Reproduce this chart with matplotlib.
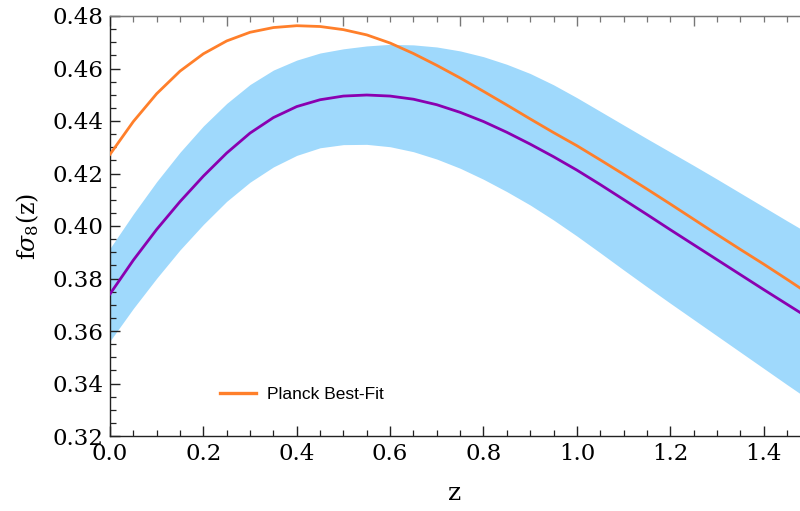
import numpy as np
import matplotlib
matplotlib.use("Agg")
import matplotlib.pyplot as plt
from matplotlib.ticker import MultipleLocator

# redshift grid
z = [0.00, 0.05, 0.10, 0.15, 0.20, 0.25, 0.30, 0.35, 0.40, 0.45,
     0.50, 0.55, 0.60, 0.65, 0.70, 0.75, 0.80, 0.85, 0.90, 0.95,
     1.00, 1.05, 1.10, 1.15, 1.20, 1.25, 1.30, 1.35, 1.40, 1.45, 1.50]

# Planck best-fit f sigma8(z)
planck = [0.4273, 0.4398, 0.4504, 0.4590, 0.4656, 0.4705, 0.4738, 0.4756, 0.4763, 0.4760,
          0.4748, 0.4728, 0.4697, 0.4657, 0.4612, 0.4564, 0.4513, 0.4461, 0.4408, 0.4356,
          0.4306, 0.4252, 0.4197, 0.4141, 0.4084, 0.4026, 0.3968, 0.3911, 0.3855, 0.3797, 0.3738]

# model best fit
model = [0.3741, 0.3870, 0.3987, 0.4093, 0.4190, 0.4278, 0.4354, 0.4413, 0.4455, 0.4481,
         0.4495, 0.4499, 0.4495, 0.4483, 0.4462, 0.4433, 0.4398, 0.4357, 0.4312, 0.4264,
         0.4213, 0.4158, 0.4101, 0.4044, 0.3986, 0.3929, 0.3872, 0.3815, 0.3758, 0.3702, 0.3646]

# 1-sigma band
upper = [0.3915, 0.4046, 0.4169, 0.4281, 0.4381, 0.4467, 0.4539, 0.4594, 0.4632, 0.4659,
         0.4675, 0.4686, 0.4692, 0.4690, 0.4682, 0.4667, 0.4645, 0.4616, 0.4581, 0.4538,
         0.4489, 0.4437, 0.4385, 0.4333, 0.4282, 0.4231, 0.4179, 0.4126, 0.4073, 0.4020, 0.3968]
lower = [0.3562, 0.3686, 0.3801, 0.3909, 0.4006, 0.4094, 0.4167, 0.4225, 0.4269, 0.4298,
         0.4310, 0.4311, 0.4302, 0.4283, 0.4255, 0.4220, 0.4178, 0.4131, 0.4080, 0.4023,
         0.3962, 0.3898, 0.3833, 0.3769, 0.3706, 0.3644, 0.3582, 0.3520, 0.3458, 0.3396, 0.3335]

xticks = [0.0, 0.2, 0.4, 0.6, 0.8, 1.0, 1.2, 1.4]
xticklabels = ["0.0", "0.2", "0.4", "0.6", "0.8", "1.0", "1.2", "1.4"]
yticks = [0.32, 0.34, 0.36, 0.38, 0.40, 0.42, 0.44, 0.46, 0.48]
yticklabels = ["0.32", "0.34", "0.36", "0.38", "0.40", "0.42", "0.44", "0.46", "0.48"]

plt.rcParams['mathtext.fontset'] = 'dejavuserif'

fig = plt.figure(figsize=(8.0, 5.11), dpi=100)
ax = fig.add_axes([110/800, 75/511, 690/800, 420/511])

ax.fill_between(z, lower, upper, color='#9fd9fc', linewidth=0, zorder=1)
ax.plot(z, model, color='#8a00b0', lw=2.0, zorder=3, solid_joinstyle='round')
ax.plot(z, planck, color='#ff7f2a', lw=2.0, zorder=3, solid_joinstyle='round',
        label='Planck Best\u2010Fit')

ax.set_xlim(0, 1.478)
ax.set_ylim(0.32, 0.48)

ax.set_xticks(xticks)
ax.set_xticklabels(xticklabels)
ax.set_yticks(yticks)
ax.set_yticklabels(yticklabels)
ax.xaxis.set_minor_locator(MultipleLocator(0.05))
ax.yaxis.set_minor_locator(MultipleLocator(0.005))

for lab in ax.get_xticklabels() + ax.get_yticklabels():
    lab.set_fontfamily('DejaVu Serif')
    lab.set_fontsize(16.5)

ax.tick_params(axis='both', which='major', direction='in', length=7, width=1.0,
               color='#222222', pad=5)
ax.tick_params(axis='both', which='minor', direction='in', length=4, width=0.9,
               color='#222222')
ax.tick_params(top=False, right=False, which='both')

ax.spines['right'].set_visible(False)
ax.spines['top'].set_color('#777777')
ax.spines['left'].set_color('#222222')
ax.spines['bottom'].set_color('#222222')
for s in ax.spines.values():
    s.set_linewidth(1.0)

sec = ax.secondary_xaxis('top')
sec.set_xticks([0.0, 0.25, 0.5, 0.75, 1.0, 1.25])
sec.xaxis.set_minor_locator(MultipleLocator(0.05))
sec.tick_params(axis='x', which='major', direction='in', length=7, width=1.0,
                color='#777777', labeltop=False)
sec.tick_params(axis='x', which='minor', direction='in', length=4, width=0.9,
                color='#777777')
sec.spines['top'].set_color('#777777')

ax.set_xlabel('z', fontfamily='DejaVu Serif', fontsize=18, labelpad=12)
ax.set_ylabel(r'f$\sigma_8$(z)', fontfamily='DejaVu Serif', fontsize=17, labelpad=8)

leg = ax.legend(loc='center left', bbox_to_anchor=(0.149, 0.1), frameon=False,
                prop={'family': 'Liberation Sans', 'size': 12.5},
                handlelength=2.1, handletextpad=0.6, borderaxespad=0)
for ln in leg.get_lines():
    ln.set_linewidth(2.4)

fig.savefig('out.png', dpi=100)
